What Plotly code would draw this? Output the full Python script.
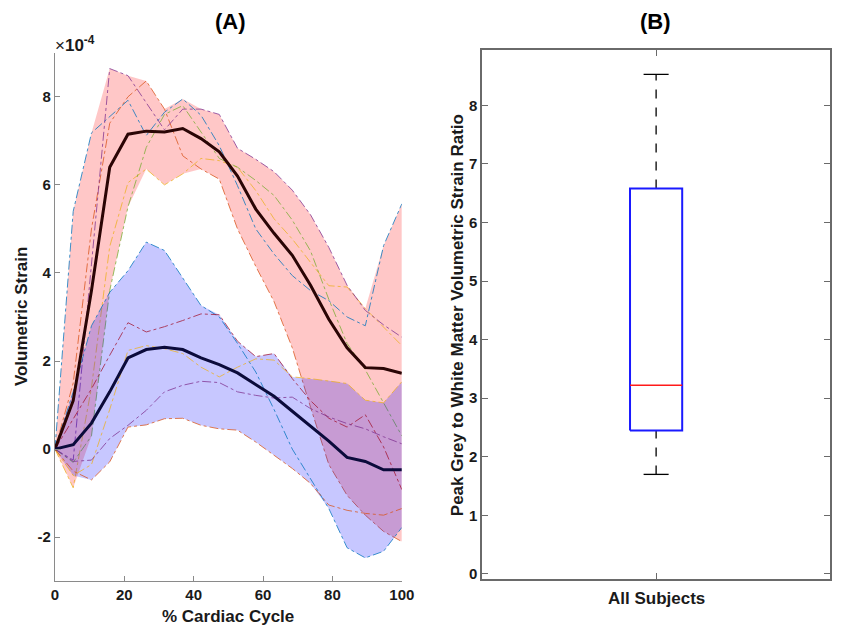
import numpy as np
import plotly.graph_objects as go

# % of cardiac cycle at which strain was sampled
pct_cycle = [0, 5.26, 10.53, 15.79, 21.05, 26.32, 31.58, 36.84, 42.11, 47.37,
             52.63, 57.89, 63.16, 68.42, 73.68, 78.95, 84.21, 89.47, 94.74, 100]

# Grey matter volumetric strain per subject (x 1e-4)
gm_subj1 = [0, 5.40, 7.18, 7.55, 7.92, 7.12, 7.65, 7.95, 7.58, 6.89,
            5.98, 5.00, 4.43, 3.94, 3.60, 3.37, 3.00, 2.80, 4.62, 5.57]
gm_subj2 = [0, 1.50, 5.00, 7.40, 8.00, 8.36, 7.72, 6.66, 6.36, 6.13,
            5.00, 4.15, 3.35, 2.30, 0.95, -0.35, -1.05, -1.50, -1.87, -2.10]
gm_subj3 = [0, -0.88, 1.40, 4.60, 6.05, 6.36, 6.00, 6.25, 6.60, 6.55,
            6.40, 5.87, 5.23, 4.77, 4.24, 3.71, 3.68, 3.19, 2.77, 2.35]
gm_subj4 = [0, -0.25, 4.20, 8.64, 8.48, 7.87, 7.25, 7.72, 7.72, 7.60,
            6.83, 6.58, 6.30, 5.88, 5.32, 4.58, 3.72, 3.15, 2.82, 2.54]
gm_subj5 = [0, -0.30, 0.30, 3.60, 5.50, 6.85, 7.60, 7.80, 7.20, 6.60,
            6.40, 6.10, 5.76, 5.20, 4.50, 3.40, 2.40, 1.80, 1.05, 0.30]
gm_mean = [0, 1.10, 3.60, 6.40, 7.15, 7.22, 7.20, 7.28, 7.05, 6.75,
           6.20, 5.45, 4.90, 4.40, 3.72, 2.95, 2.30, 1.85, 1.83, 1.72]

# White matter volumetric strain per subject (x 1e-4)
wm_subj1 = [0, 1.30, 2.80, 3.56, 4.05, 4.70, 4.51, 3.90, 3.26, 3.00,
            2.40, 1.75, 0.90, 0.00, -0.67, -1.35, -2.24, -2.47, -2.32, -1.78]
wm_subj2 = [0, 0.67, 1.37, 2.13, 2.87, 2.66, 2.78, 2.92, 3.07, 3.05,
            2.45, 2.10, 2.17, 1.60, 1.10, 0.70, 0.50, 0.78, 0.05, -0.92]
wm_subj3 = [0, -0.60, -0.35, 0.90, 2.24, 2.35, 2.28, 2.17, 1.86, 1.64,
            1.86, 2.05, 2.02, 1.64, 1.60, 1.55, 1.49, 1.11, 1.05, 1.53]
wm_subj4 = [0, -0.28, -0.25, 0.24, 0.54, 0.88, 1.30, 1.45, 1.54, 1.51,
            1.30, 1.22, 1.16, 1.18, 0.92, 0.73, 0.58, 0.46, 0.28, 0.12]
wm_subj5 = [0, -0.50, -0.70, -0.29, 0.50, 0.55, 0.69, 0.70, 0.54, 0.46,
            0.43, 0.16, -0.14, -0.44, -0.78, -1.27, -1.39, -1.46, -1.50, -1.35]
wm_mean = [0, 0.10, 0.59, 1.30, 2.07, 2.26, 2.31, 2.26, 2.07, 1.92,
           1.73, 1.46, 1.20, 0.86, 0.52, 0.18, -0.19, -0.28, -0.47, -0.47]

# Panel A tick values and labels
strain_ticks = [-2, 0, 2, 4, 6, 8]
strain_tick_text = ["-2", "0", "2", "4", "6", "8"]
cycle_ticks = [0, 20, 40, 60, 80, 100]

# Peak grey-to-white matter strain ratio summary (all subjects)
ratio_low_whisker = 1.70
ratio_q1 = 2.45
ratio_median = 3.22
ratio_q3 = 6.58
ratio_high_whisker = 8.53
ratio_ticks = [0, 1, 2, 3, 4, 5, 6, 7, 8]

gm_subjects = [gm_subj1, gm_subj2, gm_subj3, gm_subj4, gm_subj5]
wm_subjects = [wm_subj1, wm_subj2, wm_subj3, wm_subj4, wm_subj5]
gm_colors = ["#0072BD", "#D95319", "#EDB120", "#7E2F8E", "#77AC30"]
wm_colors = ["#0072BD", "#A2142F", "#EDB120", "#7E2F8E", "#D95319"]

FONT = "Liberation Sans, Arial, Helvetica, sans-serif"
fig = go.Figure()


def add_band(subjects, fill):
    arr = np.array(subjects)
    upper = arr.max(axis=0)
    lower = arr.min(axis=0)
    fig.add_trace(go.Scatter(x=pct_cycle, y=upper, mode="lines",
                             line=dict(width=0), hoverinfo="skip",
                             showlegend=False, xaxis="x", yaxis="y"))
    fig.add_trace(go.Scatter(x=pct_cycle, y=lower, mode="lines",
                             line=dict(width=0), fill="tonexty",
                             fillcolor=fill, hoverinfo="skip",
                             showlegend=False, xaxis="x", yaxis="y"))


def add_subjects(subjects, colors):
    for vals, col in zip(subjects, colors):
        fig.add_trace(go.Scatter(x=pct_cycle, y=vals, mode="lines",
                                 line=dict(color=col, width=1, dash="dashdot"),
                                 opacity=0.75, showlegend=False,
                                 xaxis="x", yaxis="y"))


# Panel A: grey matter band + subjects, then white matter band + subjects
add_band(gm_subjects, "rgba(255,0,0,0.22)")
add_subjects(gm_subjects, gm_colors)
add_band(wm_subjects, "rgba(0,0,255,0.22)")
add_subjects(wm_subjects, wm_colors)

fig.add_trace(go.Scatter(x=pct_cycle, y=gm_mean, mode="lines",
                         line=dict(color="#2a0505", width=3),
                         showlegend=False, xaxis="x", yaxis="y"))
fig.add_trace(go.Scatter(x=pct_cycle, y=wm_mean, mode="lines",
                         line=dict(color="#0b0b3b", width=3),
                         showlegend=False, xaxis="x", yaxis="y"))

# Panel B: box plot drawn from the summary statistics
bx = 1.0
half_w = 0.075
cap_w = 0.036
fig.add_trace(go.Scatter(x=[bx, bx], y=[ratio_q3, ratio_high_whisker], mode="lines",
                         line=dict(color="black", width=1.3, dash="dash"),
                         showlegend=False, xaxis="x2", yaxis="y2"))
fig.add_trace(go.Scatter(x=[bx, bx], y=[ratio_low_whisker, ratio_q1], mode="lines",
                         line=dict(color="black", width=1.3, dash="dash"),
                         showlegend=False, xaxis="x2", yaxis="y2"))
for yv in (ratio_low_whisker, ratio_high_whisker):
    fig.add_trace(go.Scatter(x=[bx - cap_w, bx + cap_w], y=[yv, yv], mode="lines",
                             line=dict(color="black", width=1.3),
                             showlegend=False, xaxis="x2", yaxis="y2"))
fig.add_trace(go.Scatter(x=[bx - half_w, bx + half_w, bx + half_w, bx - half_w, bx - half_w],
                         y=[ratio_q1, ratio_q1, ratio_q3, ratio_q3, ratio_q1],
                         mode="lines", line=dict(color="#1a1aff", width=2),
                         showlegend=False, xaxis="x2", yaxis="y2"))
fig.add_trace(go.Scatter(x=[bx - half_w, bx + half_w], y=[ratio_median, ratio_median],
                         mode="lines", line=dict(color="#ff1a1a", width=1.5),
                         showlegend=False, xaxis="x2", yaxis="y2"))

W, H = 845, 629
tickfont = dict(family=FONT, size=15, color="#1a1a1a", weight="bold")
axis_line = "#8a8a8a"

fig.update_layout(
    width=W, height=H,
    margin=dict(l=0, r=0, t=0, b=0),
    paper_bgcolor="white", plot_bgcolor="white",
    showlegend=False,
    xaxis=dict(domain=[52 / W, 406 / W], range=[0, 100],
               tickvals=cycle_ticks,
               ticks="inside", ticklen=5, tickcolor=axis_line,
               showline=True, linecolor=axis_line, linewidth=1,
               showgrid=False, zeroline=False, tickfont=tickfont,
               anchor="y"),
    yaxis=dict(domain=[1 - 584 / H, 1 - 53 / H], range=[-3, 9],
               tickvals=strain_ticks, ticktext=strain_tick_text,
               ticks="inside", ticklen=5, tickcolor=axis_line,
               showline=True, linecolor=axis_line, linewidth=1,
               showgrid=False, zeroline=False, tickfont=tickfont,
               anchor="x"),
    xaxis2=dict(domain=[488 / W, 843 / W], range=[0.5, 1.5],
                tickvals=[1], showticklabels=False,
                ticks="inside", ticklen=6, tickcolor="#6a6a6a",
                showline=True, mirror="ticks", linecolor="#6a6a6a", linewidth=1.5,
                showgrid=False, zeroline=False,
                anchor="y2"),
    yaxis2=dict(domain=[1 - 582 / H, 1 - 50.6 / H], range=[-0.09, 8.94],
                tickvals=ratio_ticks,
                ticks="inside", ticklen=6, tickcolor="#6a6a6a",
                showline=True, mirror="ticks", linecolor="#6a6a6a", linewidth=1.5,
                showgrid=False, zeroline=False, tickfont=tickfont,
                anchor="x2"),
)

title_font = dict(family=FONT, size=22, color="black", weight="bold")
label_font = dict(family=FONT, size=17, color="#1a1a1a", weight="bold")


def note(text, px, py, font, angle=0, xanchor="center", yanchor="middle"):
    fig.add_annotation(text=text, x=px / W, y=1 - py / H, xref="paper", yref="paper",
                       showarrow=False, font=font, textangle=angle,
                       xanchor=xanchor, yanchor=yanchor)


note("(A)", 231, 22, title_font)
note("(B)", 665, 22, title_font)
note("% Cardiac Cycle", 229, 619, label_font)
note("Volumetric Strain", 18, 318, label_font, angle=-90)
note("All Subjects", 665.5, 601, label_font)
note("Peak Grey to White Matter Volumetric Strain Ratio", 463, 317, label_font, angle=-90)
note("×<b>10<sup>-4</sup></b>", 50, 44,
     dict(family=FONT, size=17, color="#1a1a1a"), xanchor="left")

fig.write_html("out.html")
